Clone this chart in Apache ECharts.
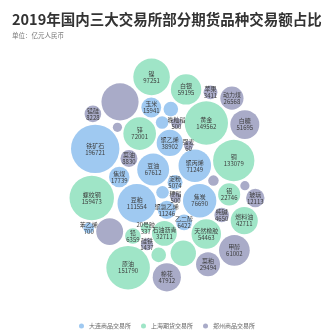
<!DOCTYPE html>
<html><head><meta charset="utf-8">
<script src="https://cdn.jsdelivr.net/npm/echarts@6/dist/echarts.min.js"></script>
<style>html,body{margin:0;padding:0;background:#fff}#c{width:334px;height:334px}</style>
</head><body><div id="c"></div>
<script>
// Exchanges (legend categories)
const exchanges = ['大连商品交易所', '上海期货交易所', '郑州商品交易所'];
// Products (ordered roughly from the cluster centre outward)
const products = ['乙二醇','豆油','鸡蛋','豆一','玉米','聚丙烯','聚氯乙烯','淀粉','焦炭','苯乙烯',
  '豆二','粳稻','焦煤','铝','锡','聚乙烯','燃料油','豆粕','黄金','石油沥青',
  '锌','纯碱','铅','白银','天然橡胶','铁矿石','铜','20号胶','镍','早籼稻',
  '螺纹钢','强麦','热轧卷板','普麦','棉纱','原油','晚籼稻','甲醇','菜油','动力煤',
  '棉花','PTA','玻璃','尿素','苹果','菜粕','锰硅','白糖','硅铁'];
// Trading value, 亿元
const turnover = [6422,67612,4650,2066,15941,71249,11246,5074,76690,700,
  2066,500,17739,22746,4650,38902,42711,111554,149562,32711,
  72001,4650,6359,59195,54463,196721,133079,337,97251,500,
  159473,60,35000,60,60,151790,500,61002,8830,26568,
  47912,101240,12113,41840,3411,29494,8228,51695,1437];
// Exchange index of each product
const exchangeOf = [0,0,0,0,0,0,0,0,0,0,
  0,2,0,1,1,0,1,0,1,1,
  1,2,1,1,1,0,1,1,1,2,
  1,2,1,2,2,1,2,2,2,2,
  2,2,2,2,2,2,2,2,2];
// Products whose label is not shown
const unlabeled = ['鸡蛋','豆一','豆二','锡','早籼稻','热轧卷板','普麦','棉纱','PTA','尿素'];

const colors = ['#9fc9f1', '#9fe5c7', '#a9abc8'];
const sizeOf = v => 8.5 + 0.09 * Math.sqrt(v);

// deterministic bubble packing (gravity + collision)
const nodes = turnover.map((v, i) => {
  const a = i * 2.399963, rr = 10 * Math.sqrt(i + 0.5);
  return { r: sizeOf(v) / 2, x: rr * Math.cos(a), y: rr * Math.sin(a) };
});
const pad = 2.4;
function collide() {
  for (let i = 0; i < nodes.length; i++) for (let j = i + 1; j < nodes.length; j++) {
    const a = nodes[i], b = nodes[j];
    let dx = b.x - a.x, dy = b.y - a.y, d = Math.sqrt(dx * dx + dy * dy) || 0.01;
    const m = a.r + b.r + pad;
    if (d < m) {
      const push = (m - d) / d, wa = b.r * b.r / (a.r * a.r + b.r * b.r), wb = 1 - wa;
      a.x -= dx * push * wa; a.y -= dy * push * wa;
      b.x += dx * push * wb; b.y += dy * push * wb;
    }
  }
}
for (let it = 0; it < 400; it++) {
  nodes.forEach(n => { n.x *= 0.978; n.y *= 0.982; });
  for (let k = 0; k < 3; k++) collide();
}
for (let k = 0; k < 30; k++) collide();

let bx0 = Infinity, bx1 = -Infinity, by0 = Infinity, by1 = -Infinity;
let mnx = Infinity, mxx = -Infinity, mny = Infinity, mxy = -Infinity;
nodes.forEach(n => {
  bx0 = Math.min(bx0, n.x - n.r); bx1 = Math.max(bx1, n.x + n.r);
  by0 = Math.min(by0, n.y - n.r); by1 = Math.max(by1, n.y + n.r);
  mnx = Math.min(mnx, n.x); mxx = Math.max(mxx, n.x);
  mny = Math.min(mny, n.y); mxy = Math.max(mxy, n.y);
});
const ox = 167 - (bx0 + bx1) / 2, oy = 175 - (by0 + by1) / 2;

const data = products.map((name, i) => ({
  name, value: turnover[i], category: exchangeOf[i],
  x: nodes[i].x, y: nodes[i].y, symbolSize: sizeOf(turnover[i]),
  label: { show: unlabeled.indexOf(name) < 0 }
}));

const chart = echarts.init(document.getElementById('c'), null, { renderer: 'canvas' });
chart.setOption({
  animation: false,
  title: {
    text: '2019年国内三大交易所部分期货品种交易额占比',
    subtext: '单位：亿元人民币',
    left: 7, top: 7, itemGap: 6,
    textStyle: { fontSize: 14.5, fontWeight: 'bold', color: '#333', fontFamily: 'Noto Sans CJK SC' },
    subtextStyle: { fontSize: 6.5, color: '#777', fontFamily: 'Noto Sans CJK SC' }
  },
  legend: {
    data: exchanges, bottom: 0, left: 'center', icon: 'circle',
    itemWidth: 5, itemHeight: 5, itemGap: 10,
    textStyle: { fontSize: 6, color: '#666', fontFamily: 'Noto Sans CJK SC' }
  },
  color: colors,
  series: [{
    type: 'graph', layout: 'none', roam: false,
    left: mnx + ox, top: mny + oy, width: mxx - mnx, height: mxy - mny,
    categories: exchanges.map((n, i) => ({ name: n, itemStyle: { color: colors[i] } })),
    data,
    label: {
      position: 'inside', fontSize: 6, lineHeight: 7, color: '#3d3d3d',
      fontFamily: 'Noto Sans CJK SC',
      formatter: p => p.name + '\n' + p.value
    },
    emphasis: { disabled: true }
  }]
});
</script></body></html>
